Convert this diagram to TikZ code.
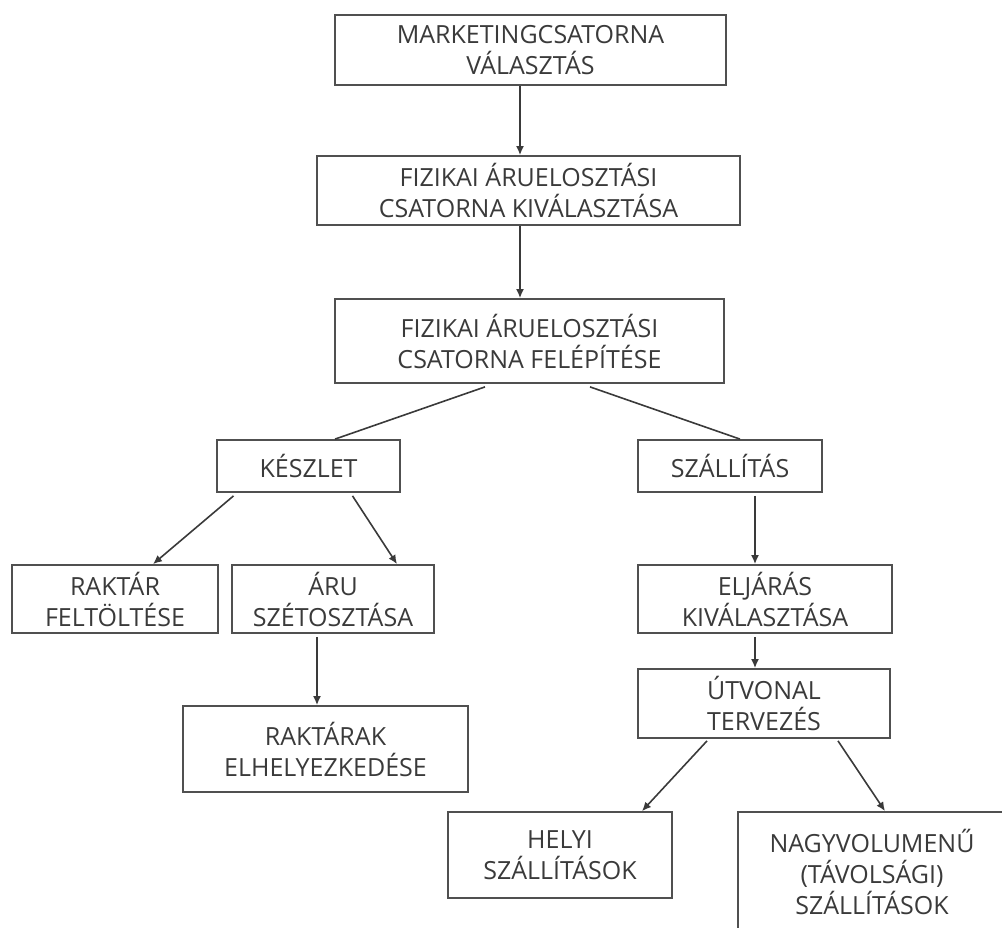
\documentclass[tikz,border=0pt]{standalone}
\usepackage{fontspec}
\setmainfont{Open Sans}
\usetikzlibrary{arrows.meta}
\definecolor{ink}{HTML}{3A3A3A}
\definecolor{frame}{HTML}{505050}
\begin{document}
\begin{tikzpicture}[x=1pt,y=-1pt,
  box/.style={draw=frame,line width=1.8pt,inner sep=0pt,align=center,
    text=ink,font=\fontsize{25}{31}\selectfont},
  link/.style={draw=ink,line width=1.6pt},
  arr/.style={link,-{Latex[length=9pt,width=8pt]}}]
\useasboundingbox (0,0) rectangle (1002,928);
\clip (0,0) rectangle (1002,928);
% top chain
\node[box,minimum width=391pt,minimum height=70pt] (mc) at (530.5,50) {MARKETINGCSATORNA\\VÁLASZTÁS};
\node[box,minimum width=423pt,minimum height=69pt] (kiv) at (528.5,190.5) {FIZIKAI ÁRUELOSZTÁSI\\CSATORNA KIVÁLASZTÁSA};
\node[box,minimum width=389pt,minimum height=84pt] (fel) at (529.5,341) {FIZIKAI ÁRUELOSZTÁSI\\CSATORNA FELÉPÍTÉSE};
% left branch
\node[box,minimum width=183pt,minimum height=52pt] (kesz) at (308.5,466) {KÉSZLET};
\node[box,minimum width=206pt,minimum height=68pt] (rakt) at (115,599) {RAKTÁR\\FELTÖLTÉSE};
\node[box,minimum width=202pt,minimum height=68pt] (aru) at (333,599) {ÁRU\\SZÉTOSZTÁSA};
\node[box,minimum width=285pt,minimum height=86pt] (elh) at (325.5,749) {RAKTÁRAK\\ELHELYEZKEDÉSE};
% right branch
\node[box,minimum width=184pt,minimum height=52pt] (szall) at (730,466) {SZÁLLÍTÁS};
\node[box,minimum width=254pt,minimum height=68pt] (elj) at (765,599) {ELJÁRÁS\\KIVÁLASZTÁSA};
\node[box,minimum width=252pt,minimum height=69pt] (utv) at (764,703.5) {ÚTVONAL\\TERVEZÉS};
\node[box,minimum width=224pt,minimum height=86pt] (helyi) at (560,855) {HELYI\\SZÁLLÍTÁSOK};
\node[box,minimum width=268pt,minimum height=120pt] (nagy) at (872,872) {NAGYVOLUMENŰ\\(TÁVOLSÁGI)\\SZÁLLÍTÁSOK};
% connectors
\draw[arr] ([xshift=-10.5pt]mc.south) -- ([xshift=-8.5pt]kiv.north);
\draw[arr] ([xshift=-8.5pt]kiv.south) -- ([xshift=-9.5pt]fel.north);
\draw[link] ([xshift=-44.5pt,yshift=-3pt]fel.south) -- ([xshift=26.5pt]kesz.north);
\draw[link] ([xshift=60.5pt,yshift=-3pt]fel.south) -- ([xshift=10pt]szall.north);
\draw[arr] ([xshift=-75pt,yshift=-3pt]kesz.south) -- ([xshift=38pt]rakt.north);
\draw[arr] ([xshift=44pt,yshift=-3pt]kesz.south) -- ([xshift=64pt]aru.north);
\draw[arr] ([xshift=-16pt,yshift=-3pt]aru.south) -- ([xshift=-8.5pt]elh.north);
\draw[arr] ([xshift=25pt,yshift=-3pt]szall.south) -- ([xshift=-10pt]elj.north);
\draw[arr] ([xshift=-10pt,yshift=-3pt]elj.south) -- ([xshift=-9pt]utv.north);
\draw[arr] ([xshift=-57pt,yshift=-2pt]utv.south) -- ([xshift=82pt]helyi.north);
\draw[arr] ([xshift=74pt,yshift=-2pt]utv.south) -- ([xshift=13pt]nagy.north);
\end{tikzpicture}
\end{document}
